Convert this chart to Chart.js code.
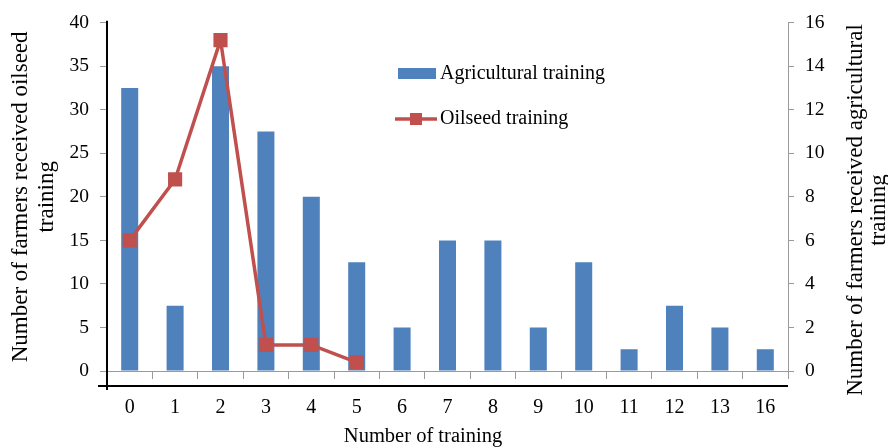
<!DOCTYPE html>
<html>
<head>
<meta charset="utf-8">
<script src="https://cdn.jsdelivr.net/npm/chart.js@4.4.1/dist/chart.umd.min.js"></script>
<style>
  html, body { margin: 0; padding: 0; background: #fff; }
  #wrap { width: 888px; height: 447px; position: relative; }
</style>
</head>
<body>
<div id="wrap"><canvas id="c" width="888" height="447"></canvas></div>
<script>
const categories = ['0','1','2','3','4','5','6','7','8','9','10','11','12','13','16'];
const agriculturalTraining = [13, 3, 14, 11, 8, 5, 2, 6, 6, 2, 5, 1, 3, 2, 1];
const oilseedTraining = [15, 22, 38, 3, 3, 1, null, null, null, null, null, null, null, null, null];
const leftTicks = { min: 0, max: 40, step: 5 };
const rightTicks = { min: 0, max: 16, step: 2 };
const seriesNames = ['Agricultural training', 'Oilseed training'];
const axisTitles = {
  x: 'Number of training',
  left: ['Number of farmers received oilseed', 'training'],
  right: ['Number of farmers received agricultural', 'training']
};

const FONT = 'Liberation Serif';
const BLUE = '#4F81BD';
const RED = '#C0504D';
const GRAY = '#9a9a9a';

const extras = {
  id: 'extras',
  afterDraw(chart) {
    const ctx = chart.ctx;
    const a = chart.chartArea;
    ctx.save();
    // black axis lines
    ctx.strokeStyle = '#000';
    ctx.lineWidth = 2;
    ctx.beginPath();
    ctx.moveTo(a.left, a.top - 2);
    ctx.lineTo(a.left, a.bottom + 19);
    ctx.moveTo(a.left - 9, a.bottom + 15);
    ctx.lineTo(a.right, a.bottom + 15);
    ctx.stroke();

    ctx.fillStyle = '#000';
    ctx.textAlign = 'center';
    ctx.textBaseline = 'middle';

    // x axis title
    ctx.font = '20.5px "' + FONT + '"';
    ctx.fillText(axisTitles.x, 423, 437);

    // right axis title (reads bottom to top)
    ctx.font = '23px "' + FONT + '"';
    const lines = axisTitles.right;
    const xs = [856, 879];
    lines.forEach((t, i) => {
      ctx.save();
      ctx.translate(xs[i], 210);
      ctx.rotate(-Math.PI / 2);
      ctx.fillText(t, 0, 0);
      ctx.restore();
    });

    // legend
    const ds = chart.data.datasets;
    ctx.font = '20px "' + FONT + '"';
    ctx.textAlign = 'left';
    ctx.fillStyle = ds[0].backgroundColor;
    ctx.fillRect(398, 68, 38, 11);
    ctx.fillStyle = '#000';
    ctx.fillText(ds[0].label, 440, 74);

    ctx.strokeStyle = ds[1].borderColor;
    ctx.lineWidth = 3.5;
    ctx.beginPath();
    ctx.moveTo(395, 119);
    ctx.lineTo(437, 119);
    ctx.stroke();
    ctx.fillStyle = ds[1].borderColor;
    ctx.fillRect(410, 113, 12, 12);
    ctx.fillStyle = '#000';
    ctx.fillText(ds[1].label, 440, 119);
    ctx.restore();
  }
};

new Chart(document.getElementById('c'), {
  data: {
    labels: categories,
    datasets: [
      {
        type: 'bar',
        label: seriesNames[0],
        data: agriculturalTraining,
        yAxisID: 'y1',
        backgroundColor: BLUE,
        borderWidth: 0,
        barPercentage: 0.375,
        categoryPercentage: 1,
        order: 2
      },
      {
        type: 'line',
        label: seriesNames[1],
        data: oilseedTraining,
        yAxisID: 'y',
        borderColor: RED,
        backgroundColor: RED,
        borderWidth: 3.5,
        pointStyle: 'rect',
        pointRadius: 10,
        pointBackgroundColor: RED,
        pointBorderWidth: 0,
        tension: 0,
        spanGaps: false,
        order: 1
      }
    ]
  },
  options: {
    responsive: false,
    animation: false,
    layout: { padding: { top: 18, left: 0, right: 0, bottom: 0 } },
    plugins: { legend: { display: false }, tooltip: { enabled: false } },
    scales: {
      x: {
        type: 'category',
        position: 'bottom',
        offset: true,
        grid: { offset: true, drawOnChartArea: false, drawTicks: true, tickLength: 8, color: GRAY, lineWidth: 1 },
        border: { display: true, color: GRAY, width: 1 },
        ticks: { color: '#000', font: { family: FONT, size: 20 }, padding: 17, maxRotation: 0, autoSkip: false },
        title: { display: false },
        afterFit: s => { s.height = 76; }
      },
      y: {
        position: 'left',
        min: leftTicks.min,
        max: leftTicks.max,
        grid: { drawOnChartArea: false, drawTicks: true, tickLength: 7, color: GRAY },
        border: { display: false },
        ticks: { stepSize: leftTicks.step, color: '#000', font: { family: FONT, size: 19.5 }, padding: 11 },
        title: { display: true, text: axisTitles.left, color: '#000', font: { family: FONT, size: 23, lineHeight: 1.13 }, padding: { top: 8, bottom: 0 } },
        afterFit: s => { s.width = 107; }
      },
      y1: {
        position: 'right',
        min: rightTicks.min,
        max: rightTicks.max,
        grid: { drawOnChartArea: false, drawTicks: true, tickLength: 6, color: GRAY },
        border: { display: true, color: GRAY, width: 1 },
        ticks: { stepSize: rightTicks.step, color: '#000', font: { family: FONT, size: 19.5 }, padding: 11 },
        afterFit: s => { s.width = 100; }
      }
    }
  },
  plugins: [extras]
});
</script>
</body>
</html>
